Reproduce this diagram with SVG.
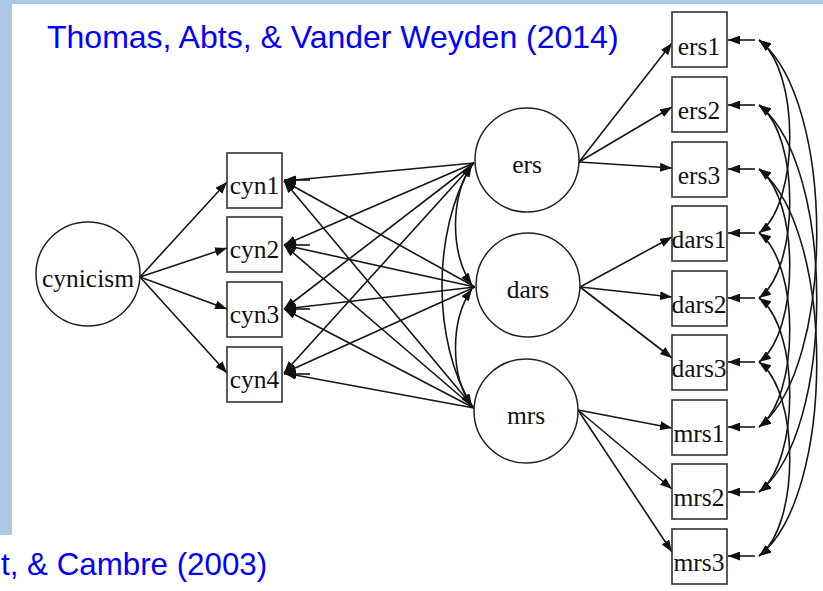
<svg xmlns="http://www.w3.org/2000/svg" width="823" height="591" viewBox="0 0 823 591">
<style>
.bg{fill:#ffffff}
.band{fill:#abc9e4}
.cite{font-family:"Liberation Sans",Arial,sans-serif;font-size:32px;fill:#0000ff}
.lbl{font-family:"Liberation Serif","Times New Roman",serif;font-size:25.5px;fill:#111;text-anchor:middle}
.node{fill:#fff;stroke:#222;stroke-width:1.5}
.box{fill:#fff;stroke:#333;stroke-width:1.6}
.c{fill:none;stroke:#161616;stroke-width:1.6}
.a{marker-end:url(#ah)}
.d{marker-start:url(#ah);marker-end:url(#ah)}
</style>
<defs>
<marker id="ah" viewBox="0 0 12 9" refX="12" refY="4.5" markerWidth="12" markerHeight="9" markerUnits="userSpaceOnUse" orient="auto-start-reverse">
<path d="M0,0 L12,4.5 L0,9 z" fill="#111"/>
</marker>
</defs>
<rect class="bg" x="0" y="0" width="823" height="591"/>
<rect class="band" x="0" y="0" width="823" height="4"/>
<rect class="band" x="0" y="0" width="12" height="535"/>
<text class="cite" x="47" y="48">Thomas, Abts, &amp; Vander Weyden (2014)</text>
<text class="cite" x="1" y="575" style="font-size:31.3px">t, &amp; Cambre (2003)</text>

<g id="connectors">
<!-- cynicism loadings -->
<path class="c a" d="M140,277 L227,182"/>
<path class="c a" d="M140,277 L227,248"/>
<path class="c a" d="M140,277 L227,309"/>
<path class="c a" d="M140,277 L227,373"/>
<!-- cyn error terms -->
<path class="c a" d="M310,180 L284,180"/>
<path class="c a" d="M310,245 L284,245"/>
<path class="c a" d="M310,309 L284,309"/>
<path class="c a" d="M310,374 L284,374"/>
<!-- method factor loadings on cyn items -->
<path class="c a" d="M474,163 L284,181"/>
<path class="c a" d="M474,163 L284,245"/>
<path class="c a" d="M474,163 L284,309"/>
<path class="c a" d="M474,163 L284,373"/>
<path class="c a" d="M475,287 L284,181"/>
<path class="c a" d="M475,287 L284,245"/>
<path class="c a" d="M475,287 L284,309"/>
<path class="c a" d="M475,287 L284,373"/>
<path class="c a" d="M474,408 L284,181"/>
<path class="c a" d="M474,408 L284,245"/>
<path class="c a" d="M474,408 L284,309"/>
<path class="c a" d="M474,408 L284,373"/>
<!-- latent covariances -->
<path class="c d" d="M472,165 C450,195 450,255 472,285"/>
<path class="c d" d="M472,289 C450,320 450,376 472,406"/>
<path class="c d" d="M472,165 C432,230 432,342 472,406"/>
<!-- right loadings -->
<path class="c a" d="M579,162 L672,43"/>
<path class="c a" d="M579,162 L672,107"/>
<path class="c a" d="M579,162 L672,168"/>
<path class="c a" d="M580,287 L672,237"/>
<path class="c a" d="M580,287 L672,297"/>
<path class="c a" d="M580,287 L672,358"/>
<path class="c a" d="M578,410 L672,428"/>
<path class="c a" d="M578,410 L672,489"/>
<path class="c a" d="M578,410 L672,552"/>
<!-- right error terms -->
<path class="c a" d="M755,40 L728,40"/>
<path class="c a" d="M755,105 L728,105"/>
<path class="c a" d="M755,169 L728,169"/>
<path class="c a" d="M755,233 L728,233"/>
<path class="c a" d="M755,298 L728,298"/>
<path class="c a" d="M755,362 L728,362"/>
<path class="c a" d="M755,427 L728,427"/>
<path class="c a" d="M755,492 L728,492"/>
<path class="c a" d="M755,556 L728,556"/>
<!-- error covariances -->
<path class="c d" d="M759,40 C800,70 800,203 759,233"/>
<path class="c d" d="M759,105 C800,135 800,268 759,298"/>
<path class="c d" d="M759,169 C800,199 800,332 759,362"/>
<path class="c d" d="M759,233 C800,263 800,397 759,427"/>
<path class="c d" d="M759,298 C800,328 800,462 759,492"/>
<path class="c d" d="M759,362 C800,392 800,526 759,556"/>
<path class="c d" d="M759,40 C836,100 836,367 759,427"/>
<path class="c d" d="M759,105 C836,165 836,432 759,492"/>
<path class="c d" d="M759,169 C836,229 836,496 759,556"/>
</g>

<g id="cynicism"><circle class="node" cx="88" cy="274" r="52"/><text class="lbl" x="88" y="287">cynicism</text></g>
<g id="cyn1"><rect class="box" x="227" y="153" width="55" height="55"/><text class="lbl" x="254.5" y="194">cyn1</text></g>
<g id="cyn2"><rect class="box" x="227" y="217" width="55" height="55"/><text class="lbl" x="254.5" y="258">cyn2</text></g>
<g id="cyn3"><rect class="box" x="227" y="282" width="55" height="55"/><text class="lbl" x="254.5" y="323">cyn3</text></g>
<g id="cyn4"><rect class="box" x="227" y="347" width="55" height="55"/><text class="lbl" x="254.5" y="388">cyn4</text></g>
<g id="ers"><circle class="node" cx="527" cy="160" r="52"/><text class="lbl" x="527" y="173">ers</text></g>
<g id="dars"><circle class="node" cx="528" cy="285" r="52"/><text class="lbl" x="528" y="298">dars</text></g>
<g id="mrs"><circle class="node" cx="526" cy="411" r="52"/><text class="lbl" x="526" y="424">mrs</text></g>
<g id="ers1"><rect class="box" x="672" y="12" width="55" height="55"/><text class="lbl" x="699" y="55">ers1</text></g>
<g id="ers2"><rect class="box" x="672" y="77" width="55" height="55"/><text class="lbl" x="699" y="119">ers2</text></g>
<g id="ers3"><rect class="box" x="672" y="142" width="55" height="55"/><text class="lbl" x="699" y="184">ers3</text></g>
<g id="dars1"><rect class="box" x="672" y="206" width="55" height="55"/><text class="lbl" x="699" y="248">dars1</text></g>
<g id="dars2"><rect class="box" x="672" y="271" width="55" height="55"/><text class="lbl" x="699" y="313">dars2</text></g>
<g id="dars3"><rect class="box" x="672" y="335" width="55" height="55"/><text class="lbl" x="699" y="377">dars3</text></g>
<g id="mrs1"><rect class="box" x="672" y="400" width="55" height="55"/><text class="lbl" x="699" y="442">mrs1</text></g>
<g id="mrs2"><rect class="box" x="672" y="464" width="55" height="55"/><text class="lbl" x="699" y="506">mrs2</text></g>
<g id="mrs3"><rect class="box" x="672" y="529" width="55" height="55"/><text class="lbl" x="699" y="571">mrs3</text></g>
</svg>
